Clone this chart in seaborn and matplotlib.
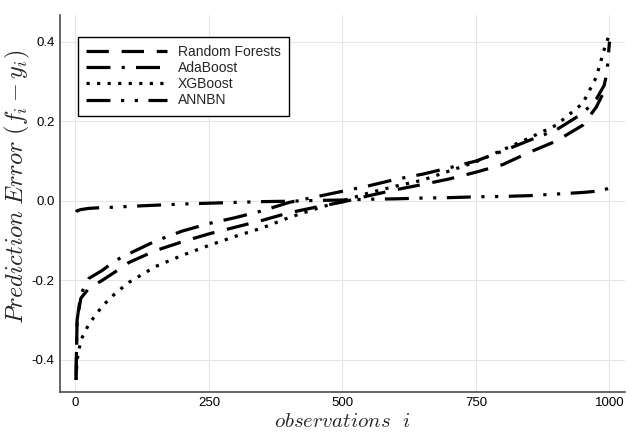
import pandas as pd
import matplotlib
matplotlib.use('Agg')
import matplotlib.pyplot as plt
import seaborn as sns

obs = [1, 3, 10, 25, 50, 75, 100, 150, 200, 250, 300, 350, 400, 450, 500,
       550, 600, 650, 700, 750, 800, 850, 900, 950, 975, 990, 995, 1000]

# sorted prediction errors per model
rf_err = [-0.45, -0.30, -0.245, -0.22, -0.20, -0.178, -0.155, -0.125, -0.103, -0.083,
          -0.066, -0.049, -0.030, -0.016, -0.003, 0.013, 0.028, 0.041, 0.055, 0.072,
          0.091, 0.122, 0.150, 0.190, 0.235, 0.275, 0.285, 0.290]
ada_err = [-0.44, -0.30, -0.235, -0.195, -0.175, -0.150, -0.133, -0.101, -0.076, -0.057,
           -0.042, -0.025, -0.004, 0.010, 0.024, 0.038, 0.054, 0.067, 0.083, 0.100,
           0.125, 0.152, 0.178, 0.220, 0.255, 0.290, 0.320, 0.400]
xgb_err = [-0.45, -0.40, -0.35, -0.31, -0.265, -0.232, -0.205, -0.165, -0.137, -0.112,
           -0.089, -0.068, -0.042, -0.020, 0.0, 0.020, 0.037, 0.052, 0.075, 0.098,
           0.128, 0.158, 0.190, 0.245, 0.310, 0.380, 0.400, 0.420]
annbn_err = [-0.028, -0.025, -0.022, -0.019, -0.017, -0.016, -0.014, -0.011, -0.008, -0.006,
             -0.004, -0.002, -0.001, 0.001, 0.002, 0.004, 0.005, 0.007, 0.008, 0.010,
             0.011, 0.013, 0.017, 0.021, 0.024, 0.028, 0.030, 0.033]

models = ['Random Forests', 'AdaBoost', 'XGBoost', 'ANNBN']
errors = [rf_err, ada_err, xgb_err, annbn_err]

# dash patterns (in line widths)
styles = {
    'Random Forests': (0, (7, 4)),
    'AdaBoost': (0, (7.5, 3.5, 1, 3.5)),
    'XGBoost': (0, (1, 2.3)),
    'ANNBN': (0, (7.5, 3.3, 1, 3.3, 1, 3.3)),
}

sns.set_style('white')
plt.rcParams['font.family'] = ['Liberation Sans', 'DejaVu Sans']
plt.rcParams['mathtext.fontset'] = 'cm'
plt.rcParams['axes.unicode_minus'] = False

fig = plt.figure(figsize=(6.41, 4.34), dpi=100)
ax = fig.add_axes([0.0936, 0.0975, 0.8814, 0.868])

for name, err in zip(models, errors):
    df = pd.DataFrame({'obs': obs, 'err': err})
    sns.lineplot(data=df, x='obs', y='err', ax=ax, color='black', lw=2.3,
                 linestyle=styles[name], label=name, sort=True)

ax.set_xlim(-29, 1029)
ax.set_ylim(-0.4797, 0.4671)
ax.set_xticks([0, 250, 500, 750, 1000])
ax.set_yticks([-0.4, -0.2, 0.0, 0.2, 0.4])
ax.grid(True, color='#e6e6e6', lw=0.8)

for side in ['top', 'right']:
    ax.spines[side].set_visible(False)
for side in ['left', 'bottom']:
    ax.spines[side].set_color('#4d4d4d')
    ax.spines[side].set_linewidth(1.2)

ax.tick_params(direction='in', length=5.5, width=0.8, colors='black',
               labelsize=9.5, pad=4)
ax.tick_params(axis='both', color='#333333')

ax.set_xlabel(r'$observations\ \ i$', fontsize=15, labelpad=2)
ax.set_ylabel(r'$Prediction\ Error\ (f_i - y_i)$', fontsize=17.5)
ax.yaxis.set_label_coords(-0.05, 0.545)

leg = ax.legend(loc='upper left', bbox_to_anchor=(0.032, 0.942), borderaxespad=0,
                fontsize=10, handlelength=5.8, labelspacing=0.15, borderpad=0.6,
                frameon=True, fancybox=False, framealpha=1)
leg.get_frame().set_edgecolor('black')
leg.get_frame().set_linewidth(1.0)

fig.savefig('out.png', dpi=100)
